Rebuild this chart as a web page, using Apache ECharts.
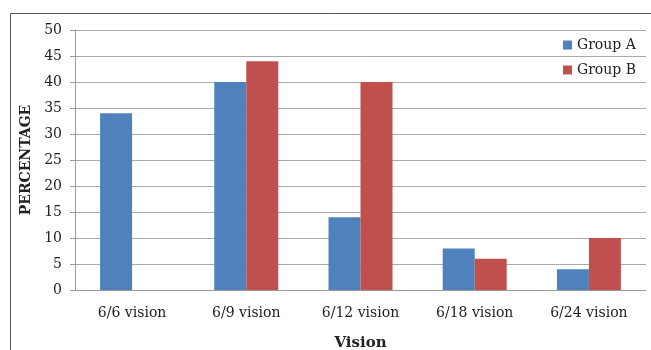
<!DOCTYPE html>
<html><head><meta charset="utf-8">
<script src="https://cdn.jsdelivr.net/npm/echarts@6/dist/echarts.min.js"></script>
<style>html,body{margin:0;padding:0;background:#fff}#c{width:651px;height:350px}</style>
</head><body><div id="c"></div>
<script>
const categories = ['6/6 vision','6/9 vision','6/12 vision','6/18 vision','6/24 vision'];
const groupA = [34, 40, 14, 8, 4];
const groupB = [null, 44, 40, 6, 10];
const seriesNames = ['Group A','Group B'];
const colors = ['#4F81BD','#C0504D'];
const font = 'DejaVu Serif';
const chart = echarts.init(document.getElementById('c'));
chart.setOption({
  animation:false,
  graphic:[{type:'rect',shape:{x:10.5,y:13.5,width:700,height:400},style:{fill:'none',stroke:'#555',lineWidth:1},z:-1}],
  grid:{left:75,right:5,top:30,bottom:60,containLabel:false,outerBoundsMode:'none'},
  legend:{orient:'vertical',right:10,top:33,itemWidth:9,itemHeight:9,itemGap:11,icon:'rect',
    textStyle:{fontFamily:font,fontSize:14,color:'#222'},data:seriesNames},
  xAxis:{type:'category',data:categories,name:'Vision',nameLocation:'middle',nameGap:46,
    nameTextStyle:{fontFamily:font,fontWeight:'bold',fontSize:15,color:'#222'},
    axisLine:{lineStyle:{color:'#999'}},axisTick:{show:false},
    axisLabel:{fontFamily:font,fontSize:14,color:'#222',margin:16}},
  yAxis:{type:'value',min:0,max:50,interval:5,name:'PERCENTAGE',nameLocation:'middle',nameGap:39,
    nameTextStyle:{fontFamily:font,fontWeight:'bold',fontSize:14,color:'#222'},
    axisLine:{show:true,lineStyle:{color:'#999'}},axisTick:{show:true,length:5,lineStyle:{color:'#999'}},
    axisLabel:{fontFamily:font,fontSize:14,color:'#222',margin:13}},
  series:[
    {name:seriesNames[0],type:'bar',data:groupA,barWidth:32,barGap:'0%',itemStyle:{color:colors[0]}},
    {name:seriesNames[1],type:'bar',data:groupB,barWidth:32,barGap:'0%',itemStyle:{color:colors[1]}}
  ]
});
chart.setOption({yAxis:{splitLine:{show:true,lineStyle:{color:'#aaa'}}}});
</script></body></html>
